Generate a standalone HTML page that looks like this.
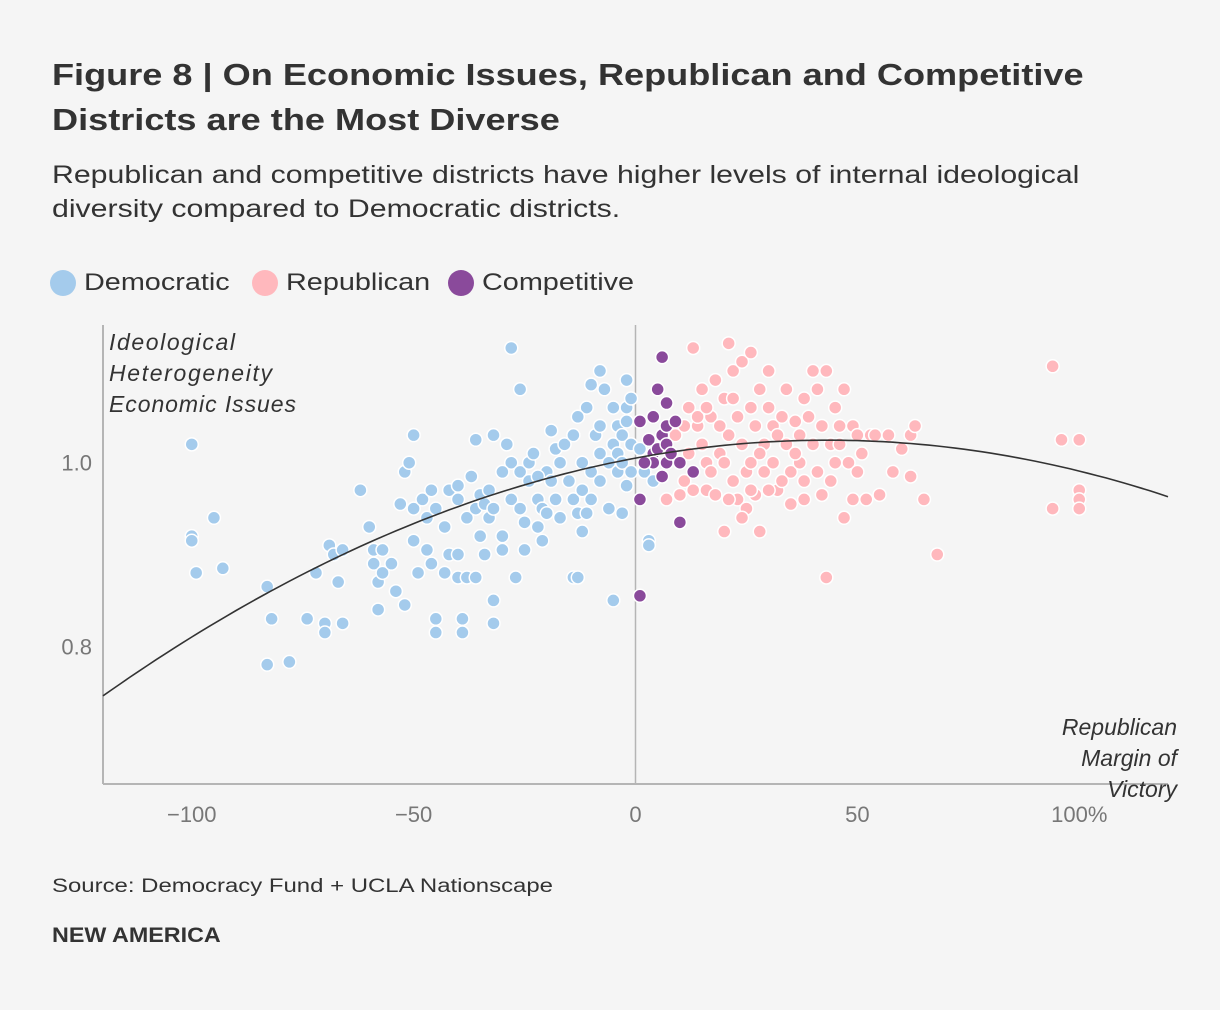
<!DOCTYPE html>
<html><head><meta charset="utf-8"><style>
body{margin:0;background:#f5f5f5;font-family:"Liberation Sans",sans-serif;color:#333;}
#wrap{position:relative;width:1220px;height:1010px;overflow:hidden;}
.t{position:absolute;left:52px;margin:0;transform-origin:0 0;white-space:nowrap;}
</style></head><body>
<div id="wrap">
<h1 class="t" style="top:52px;font-size:31px;line-height:45px;font-weight:bold;color:#333;transform:scaleX(1.165);">Figure 8 | On Economic Issues, Republican and Competitive<br>Districts are the Most Diverse</h1>
<p class="t" style="top:158px;font-size:25px;line-height:34px;color:#333;transform:scaleX(1.21);">Republican and competitive districts have higher levels of internal ideological<br>diversity compared to Democratic districts.</p>
<div style="position:absolute;left:50px;top:268px;font-size:24px;line-height:30px;display:flex;align-items:center;">
<span style="display:flex;align-items:center;margin-right:12px;"><span style="width:26px;height:26px;border-radius:50%;background:#a4cbec;margin-right:8px;"></span><span style="display:inline-block;width:156px;"><span style="display:inline-block;transform:scaleX(1.2);transform-origin:0 0;">Democratic</span></span></span>
<span style="display:flex;align-items:center;margin-right:12px;"><span style="width:26px;height:26px;border-radius:50%;background:#ffb8bd;margin-right:8px;"></span><span style="display:inline-block;width:150px;"><span style="display:inline-block;transform:scaleX(1.2);transform-origin:0 0;">Republican</span></span></span>
<span style="display:flex;align-items:center;"><span style="width:26px;height:26px;border-radius:50%;background:#8a4a9b;margin-right:8px;"></span><span style="display:inline-block;transform:scaleX(1.2);transform-origin:0 0;">Competitive</span></span>
</div>
<svg id="chart" width="1220" height="1010" style="position:absolute;left:0;top:0;" font-family="Liberation Sans, sans-serif"></svg>
<p class="t" style="top:876px;font-size:19px;color:#333;transform:scaleX(1.26);">Source: Democracy Fund + UCLA Nationscape</p>
<p class="t" style="top:924px;font-size:21px;font-weight:bold;color:#333;transform:scaleX(1.11);">NEW AMERICA</p>
</div>
<script>
const xTicks=[-100,-50,0,50,100];
const xTickLabels=["\u2212100","\u221250","0","50","100%"];
const yTicks=[0.8,1.0];
const yTickLabels=["0.8","1.0"];
const fitCoef=[1.005,0.000904,-0.00001045];
const demX=[-100,-100,-100,-95,-99,-93,-83,-82,-83,-78,-74,-72,-70,-70,-69,-68,-67,-66,-66,-62,-60,-59,-59,-58,-58,-57,-55,-54,-53,-52,-52,-51,-50,-50,-50,-49,-48,-47,-47,-46,-46,-45,-45,-45,-43,-42,-42,-40,-40,-40,-39,-39,-38,-38,-37,-36,-36,-35,-34,-34,-33,-32,-32,-32,-32,-30,-30,-29,-28,-28,-27,-26,-26,-25,-25,-24,-24,-23,-22,-22,-21,-21,-20,-20,-19,-18,-18,-17,-16,-15,-14,-14,-13,-12,-12,-12,-11,-10,-10,-9,-8,-8,-8,-7,-6,-6,-5,-5,-4,-4,-4,-3,-3,-2,-2,-2,-1,-1,-1,-2,-14,-5,-3,-11,-28,-26,-13,-10,-8,-13,-33,-43,-57,3,3,1,2,4,-17,-19,-22,-30,-35,-40,-36];
const demY=[1.02,0.92,0.915,0.94,0.88,0.885,0.865,0.83,0.78,0.783,0.83,0.88,0.825,0.815,0.91,0.9,0.87,0.905,0.825,0.97,0.93,0.905,0.89,0.87,0.84,0.88,0.89,0.86,0.955,0.845,0.99,1.0,1.03,0.95,0.915,0.88,0.96,0.94,0.905,0.97,0.89,0.95,0.83,0.815,0.93,0.97,0.9,0.975,0.96,0.875,0.83,0.815,0.94,0.875,0.985,1.025,0.95,0.965,0.955,0.9,0.94,1.03,0.95,0.85,0.825,0.92,0.905,1.02,1.0,0.96,0.875,0.99,0.95,0.935,0.905,1.0,0.98,1.01,0.96,0.93,0.95,0.915,0.99,0.945,0.98,1.015,0.96,0.94,1.02,0.98,1.03,0.96,0.945,1.0,0.97,0.925,1.06,0.99,0.96,1.03,1.04,1.01,0.98,1.08,1.0,0.95,1.06,1.02,1.04,1.01,0.99,1.03,1.0,1.09,1.06,1.045,1.07,1.02,0.99,0.975,0.875,0.85,0.945,0.945,1.125,1.08,1.05,1.085,1.1,0.875,0.97,0.88,0.905,0.915,0.91,1.015,0.99,0.98,1.0,1.035,0.985,0.99,0.92,0.9,0.875];
const repX=[12,13,14,15,16,16,17,18,18,19,20,20,21,21,22,22,23,23,24,24,25,25,26,26,27,27,28,28,29,29,30,30,31,31,32,33,34,35,35,36,37,37,38,38,39,40,40,41,41,42,42,43,43,44,45,45,46,47,47,48,49,49,50,51,52,53,55,57,58,60,62,63,62,65,68,94,94,96,100,100,100,100,8,9,10,11,12,13,14,15,17,19,20,21,22,24,26,28,30,32,33,36,38,44,46,50,54,11,7,16,34,26];
const repY=[1.06,1.125,1.04,1.02,1.0,0.97,1.05,0.965,1.09,1.01,1.07,0.925,1.13,1.03,0.98,1.1,0.96,1.05,1.11,1.02,0.99,0.95,1.06,1.0,1.04,0.965,1.08,0.925,1.02,0.99,1.06,1.1,1.04,1.0,0.97,1.05,1.02,0.99,0.955,1.045,1.03,1.0,0.98,0.96,1.05,1.1,1.02,1.08,0.99,1.04,0.965,1.1,0.875,1.02,1.06,1.0,1.04,1.08,0.94,1.0,0.96,1.04,1.03,1.01,0.96,1.03,0.965,1.03,0.99,1.015,1.03,1.04,0.985,0.96,0.9,0.95,1.105,1.025,1.025,0.97,0.96,0.95,1.01,1.03,0.965,0.98,1.01,0.97,1.05,1.08,0.99,1.04,1.0,0.96,1.07,0.94,0.97,1.01,0.97,1.03,0.98,1.01,1.07,0.98,1.02,0.99,1.03,1.04,0.96,1.06,1.08,1.12];
const compX=[1,1,1,3,4,4,4,5,5,6,6,6,7,7,7,7,8,9,10,10,13,2];
const compY=[1.045,0.96,0.855,1.025,1.01,1.05,1.0,1.08,1.015,1.115,0.985,1.03,1.065,1.04,1.02,1.0,1.01,1.045,1.0,0.935,0.99,1.0];

const NS='http://www.w3.org/2000/svg';
const svg=document.getElementById('chart');
const L=103,R=1168,T=325,B=784,XMIN=-120,XMAX=120,YMIN=0.65,YMAX=1.15;
const sx=v=>L+(v-XMIN)/(XMAX-XMIN)*(R-L);
const sy=v=>B-(v-YMIN)/(YMAX-YMIN)*(B-T);
function mk(tag,a){const e=document.createElementNS(NS,tag);for(const k in a)e.setAttribute(k,a[k]);svg.appendChild(e);return e;}
let e;
e=mk('line',{x1:L,y1:T,x2:L,y2:B,stroke:'#b5b5b5','stroke-width':2});


e=mk('line',{x1:L,y1:B,x2:R,y2:B,stroke:'#b5b5b5','stroke-width':2});


e=mk('line',{x1:sx(0),y1:T,x2:sx(0),y2:B,stroke:'#b5b5b5','stroke-width':1.5});


xTicks.forEach((v,i)=>{const t=mk('text',{x:sx(v),y:822,'text-anchor':'middle','font-size':22,fill:'#777'});t.textContent=xTickLabels[i];

});
yTicks.forEach((v,i)=>{const t=mk('text',{x:92,y:sy(v)+8,'text-anchor':'end','font-size':22,fill:'#777'});t.textContent=yTickLabels[i];

});
["Ideological","Heterogeneity","Economic Issues"].forEach((s,i)=>{const t=mk('text',{x:109,y:350+i*31,'font-size':23,'font-style':'italic',fill:'#333',textLength:[126,163,187][i]});t.textContent=s;

});
["Republican","Margin of","Victory"].forEach((s,i)=>{const t=mk('text',{x:1177,y:735+i*31,'font-size':23,'font-style':'italic',fill:'#333','text-anchor':'end'});t.textContent=s;

});
function dots(xs,ys,col,name){xs.forEach((x,i)=>{const c=mk('circle',{cx:sx(x),cy:sy(ys[i]),r:6.5,fill:col,stroke:'#fff','stroke-width':1.5});

});}
dots(demX,demY,'#a4cbec','democratic-point');
dots(repX,repY,'#ffb8bd','republican-point');
dots(compX,compY,'#8a4a9b','competitive-point');
let d='';for(let x=XMIN;x<=XMAX;x+=2){const y=fitCoef[0]+fitCoef[1]*x+fitCoef[2]*x*x;d+=(x===XMIN?'M':'L')+sx(x).toFixed(1)+','+sy(y).toFixed(1);}
e=mk('path',{d:d,fill:'none',stroke:'#333','stroke-width':1.6});


</script>
</body></html>
